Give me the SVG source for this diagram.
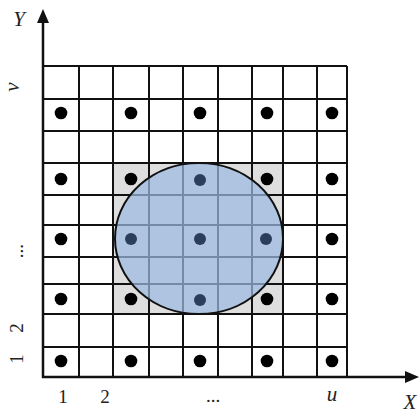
<svg xmlns="http://www.w3.org/2000/svg" width="419" height="415" viewBox="0 0 419 415">
<style>
.grid{stroke:#111;stroke-width:2;fill:none}
.axis{stroke:#111;stroke-width:2.5;fill:none}
.dot{fill:#000}
.ndot{fill:#2c3e5e}
.lbl{font-family:"Liberation Serif","Times New Roman",serif;font-size:19px;fill:#222}
.it{font-style:italic;font-size:21px}
</style>
<defs>
<marker id="arr" viewBox="0 0 14 12" refX="1" refY="6" markerWidth="14" markerHeight="12" markerUnits="userSpaceOnUse" orient="auto">
<path d="M0,0 L14,6 L0,12 Z" fill="#111"/>
</marker>
</defs>
<rect width="419" height="415" fill="#fff"/>
<rect id="shade" x="113" y="163" width="170" height="151" fill="#dedede"/>
<g id="grid" class="grid">
<path d="M79,66V377M113,66V377M149,66V377M183,66V377M218,66V377M252,66V377M283,66V377M317,66V377M347,66V377"/>
<path d="M43,66H347M43,99H347M43,131H347M43,163H347M43,195H347M43,225H347M43,257H347M43,284H347M43,314H347M43,347H347"/>
</g>
<ellipse id="circle" cx="199" cy="238.5" rx="84" ry="75.5" fill="#9bbae0" fill-opacity="0.72" stroke="#111" stroke-width="2"/>
<g id="dots">
<circle class="dot" cx="61" cy="113" r="6.3"/><circle class="dot" cx="131" cy="113" r="6.3"/><circle class="dot" cx="200" cy="113" r="6.3"/><circle class="dot" cx="267" cy="113" r="6.3"/><circle class="dot" cx="332" cy="113" r="6.3"/>
<circle class="dot" cx="61" cy="179" r="6.3"/><circle class="dot" cx="131" cy="179" r="6.3"/><circle class="ndot" cx="200" cy="180" r="6"/><circle class="dot" cx="267" cy="179" r="6.3"/><circle class="dot" cx="332" cy="179" r="6.3"/>
<circle class="dot" cx="61" cy="239" r="6.3"/><circle class="ndot" cx="131" cy="239" r="6"/><circle class="ndot" cx="200" cy="239" r="6"/><circle class="ndot" cx="266" cy="239" r="6"/><circle class="dot" cx="332" cy="239" r="6.3"/>
<circle class="dot" cx="61" cy="299" r="6.3"/><circle class="dot" cx="131" cy="299" r="6.3"/><circle class="ndot" cx="200" cy="300" r="6"/><circle class="dot" cx="267" cy="299" r="6.3"/><circle class="dot" cx="332" cy="299" r="6.3"/>
<circle class="dot" cx="61" cy="361" r="6.3"/><circle class="dot" cx="131" cy="361" r="6.3"/><circle class="dot" cx="200" cy="361" r="6.3"/><circle class="dot" cx="267" cy="361" r="6.3"/><circle class="dot" cx="332" cy="361" r="6.3"/>
</g>
<g id="axes" class="axis">
<path d="M43,378V22" marker-end="url(#arr)"/>
<path d="M42,377H406" marker-end="url(#arr)"/>
</g>
<g id="labels" class="lbl">
<text class="it" x="19" y="26" text-anchor="middle">Y</text>
<text class="it" x="410" y="409" text-anchor="middle">X</text>
<text class="it" x="332" y="401" text-anchor="middle">u</text>
<text x="63" y="403" text-anchor="middle">1</text>
<text x="105" y="403" text-anchor="middle">2</text>
<text x="213" y="402" text-anchor="middle">...</text>
<text class="it" transform="translate(19,87) rotate(-90)" text-anchor="middle">v</text>
<text transform="translate(23,251) rotate(-90)" text-anchor="middle">...</text>
<text transform="translate(23,328) rotate(-90)" text-anchor="middle">2</text>
<text transform="translate(23,359) rotate(-90)" text-anchor="middle">1</text>
</g>
</svg>
